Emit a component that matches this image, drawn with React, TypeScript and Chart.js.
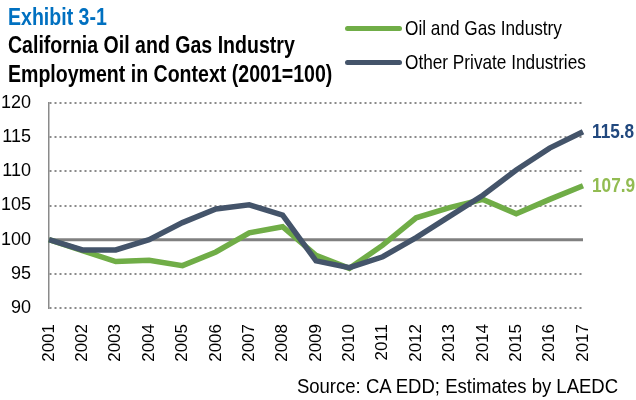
import React, { useEffect, useRef } from "react";
import { Chart, registerables } from "chart.js";

Chart.register(...registerables);

const years = ["2001","2002","2003","2004","2005","2006","2007","2008","2009","2010","2011","2012","2013","2014","2015","2016","2017"];
const oilGas = [100, 98.4, 96.8, 97.0, 96.2, 98.2, 101.0, 101.9, 97.7, 95.8, 99.2, 103.2, 104.7, 105.9, 103.8, 105.9, 107.9];
const otherPrivate = [100, 98.5, 98.5, 100.0, 102.5, 104.5, 105.1, 103.6, 96.9, 95.9, 97.5, 100.3, 103.4, 106.5, 110.2, 113.4, 115.8];
const endLabels = ["107.9", "115.8"];

const FONT = '"Liberation Sans", Arial, sans-serif';
const NARROW = 0.82;
const GREEN = "#70AD47";
const NAVY = "#44546A";

function Narrow({ children, origin = "left", scale = NARROW, style }: any) {
  return (
    <div style={{ position: "absolute", whiteSpace: "nowrap", transform: `scaleX(${scale})`, transformOrigin: origin, ...style }}>
      {children}
    </div>
  );
}

export default function App() {
  const ref = useRef<HTMLCanvasElement | null>(null);

  useEffect(() => {
    if (!ref.current) return;
    const baselinePlugin = {
      id: "baseline100",
      beforeDatasetsDraw(chart: any) {
        const { ctx, chartArea, scales } = chart;
        const y = scales.y.getPixelForValue(100);
        ctx.save();
        ctx.strokeStyle = "#808080";
        ctx.lineWidth = 3;
        ctx.beginPath();
        ctx.moveTo(chartArea.left, y);
        ctx.lineTo(chartArea.right, y);
        ctx.stroke();
        ctx.restore();
      },
    };
    const endLabelPlugin = {
      id: "endLabels",
      afterDatasetsDraw(chart: any) {
        const { ctx } = chart;
        const colors = ["#92BC52", "#21487E"];
        chart.data.datasets.forEach((ds: any, i: number) => {
          const meta = chart.getDatasetMeta(i);
          const pt = meta.data[meta.data.length - 1];
          ctx.save();
          ctx.translate(pt.x + 9, pt.y + 1);
          ctx.scale(NARROW, 1);
          ctx.font = `bold 21px ${FONT}`;
          ctx.fillStyle = colors[i];
          ctx.textAlign = "left";
          ctx.textBaseline = "middle";
          ctx.fillText(endLabels[i], 0, 0);
          ctx.restore();
        });
      },
    };
    const chart = new Chart(ref.current, {
      type: "line",
      data: {
        labels: years,
        datasets: [
          {
            label: "Oil and Gas Industry",
            data: oilGas,
            borderColor: GREEN,
            backgroundColor: GREEN,
            borderWidth: 5.5,
            pointRadius: 0,
            tension: 0,
            order: 1,
          },
          {
            label: "Other Private Industries",
            data: otherPrivate,
            borderColor: NAVY,
            backgroundColor: NAVY,
            borderWidth: 5.5,
            pointRadius: 0,
            tension: 0,
            order: 0,
          },
        ],
      },
      options: {
        animation: false,
        responsive: false,
        layout: { padding: { top: 103, right: 53, bottom: 30, left: 0 } },
        plugins: { legend: { display: false }, tooltip: { enabled: false }, title: { display: false } },
        scales: {
          x: {
            type: "category",
            offset: false,
            grid: { display: false },
            border: { display: false },
            ticks: {
              autoSkip: false,
              minRotation: 90,
              maxRotation: 90,
              padding: 8,
              color: "#000",
              font: { family: FONT, size: 17 },
            },
            afterFit: (s: any) => { s.height = 62; },
          },
          y: {
            min: 90,
            max: 120,
            ticks: {
              stepSize: 5,
              padding: 18,
              color: "#000",
              font: { family: FONT, size: 18 },
            },
            grid: {
              drawTicks: false,
              color: (c: any) => (c.tick && c.tick.value === 100 ? "rgba(0,0,0,0)" : "#8a8a8a"),
              lineWidth: 2,
            },
            border: { display: true, color: "#8a8a8a", width: 1.5, dash: [2, 3] },
            afterFit: (s: any) => { s.width = 49; },
          },
        },
      },
      plugins: [baselinePlugin, endLabelPlugin],
    });
    return () => chart.destroy();
  }, []);

  const legendItem = (color: string, text: string, top: number) => (
    <>
      <div style={{ position: "absolute", left: 345, top: top - 2.5, width: 57, height: 5, borderRadius: 3, background: color }} />
      <Narrow style={{ left: 405, top: top - 13, fontSize: 21, lineHeight: "26px", color: "#000" }}>{text}</Narrow>
    </>
  );

  return (
    <div style={{ position: "fixed", left: 0, top: 0, width: 636, height: 400, background: "#fff", fontFamily: FONT }}>
      <canvas ref={ref} width={636} height={400} style={{ position: "absolute", left: 0, top: 0, display: "block" }} />
      <Narrow scale={0.85} style={{ left: 8, top: 3, fontWeight: "bold", fontSize: 23, lineHeight: "28px", color: "#0070C0" }}>Exhibit 3-1</Narrow>
      <Narrow scale={0.85} style={{ left: 8, top: 31, fontWeight: "bold", fontSize: 23, lineHeight: "29px", color: "#000" }}>
        California Oil and Gas Industry<br />Employment in Context (2001=100)
      </Narrow>
      {legendItem(GREEN, "Oil and Gas Industry", 28)}
      {legendItem(NAVY, "Other Private Industries", 62)}
      <Narrow origin="right" scale={0.95} style={{ right: 18, top: 375, fontSize: 19.5, lineHeight: "22px", color: "#000" }}>
        Source: CA EDD; Estimates by LAEDC
      </Narrow>
    </div>
  );
}
